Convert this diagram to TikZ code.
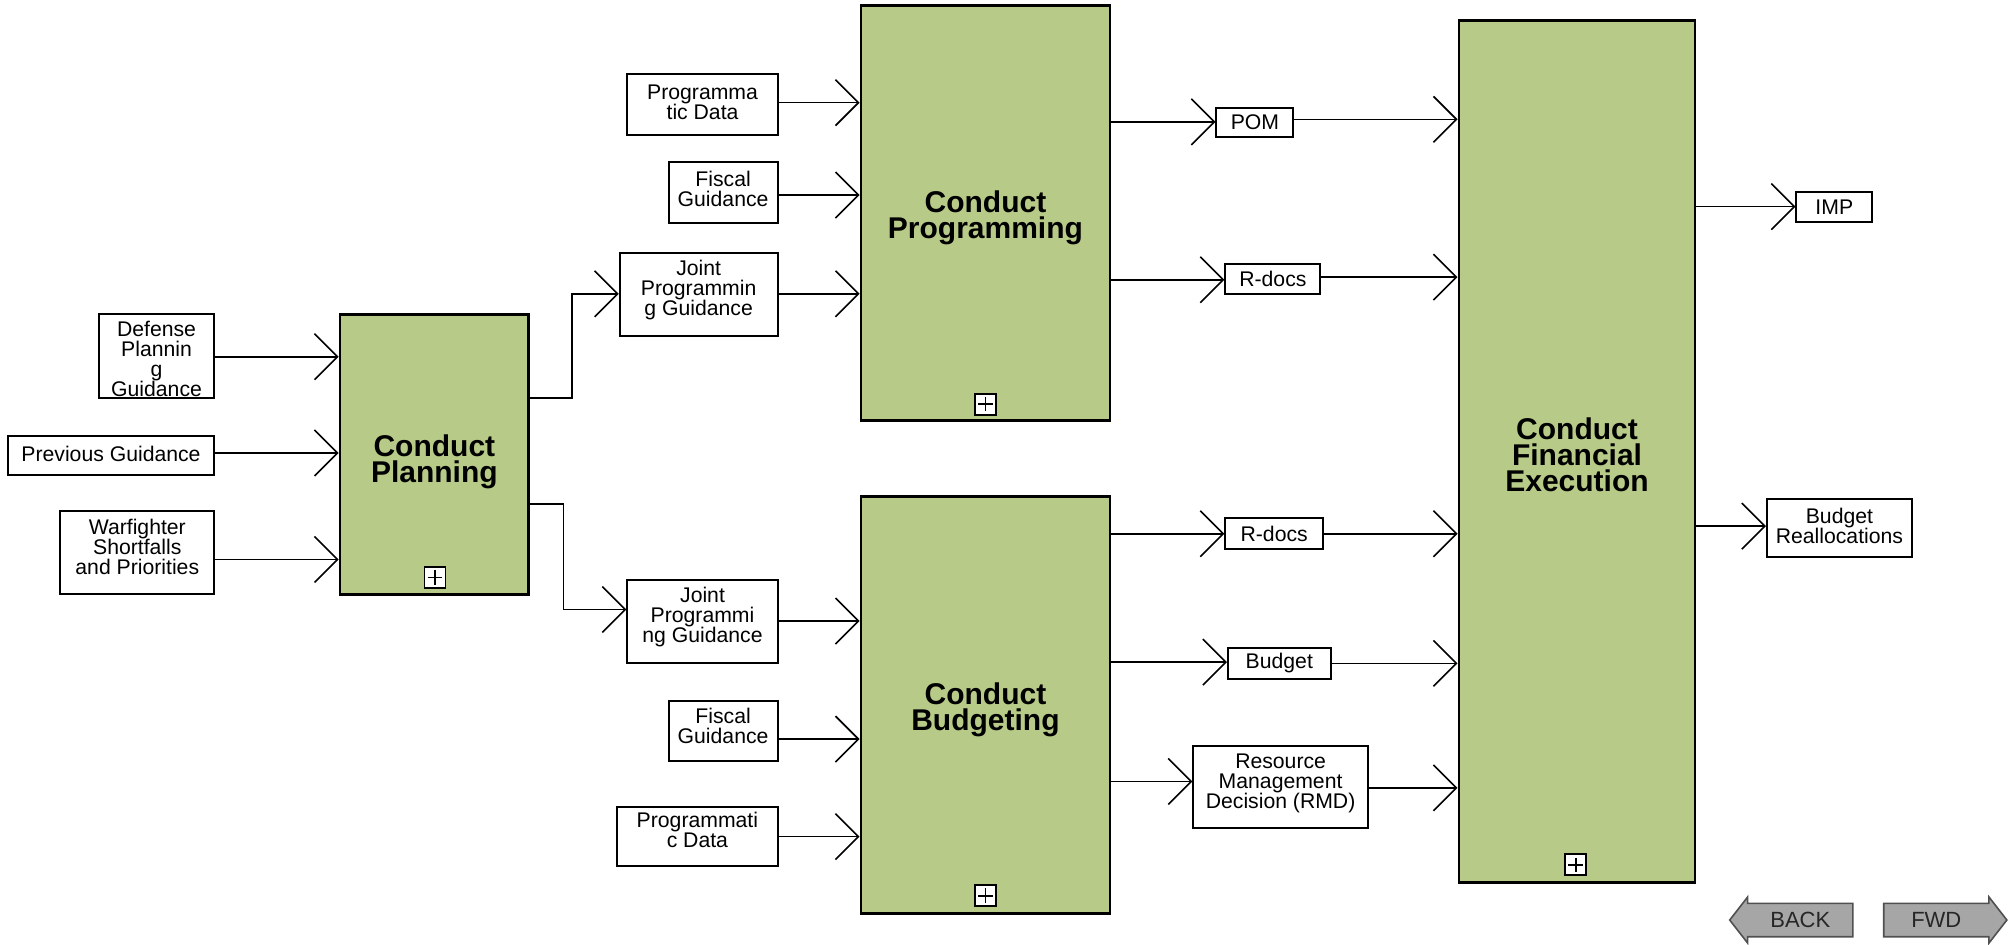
\documentclass[tikz,border=0pt]{standalone}
\usepackage{fontspec}
\setmainfont{Liberation Sans}
\usetikzlibrary{arrows.meta,fit}
\definecolor{procgreen}{RGB}{183,202,135}
\definecolor{btngray}{RGB}{166,166,166}
\definecolor{btnedge}{RGB}{80,80,80}
\begin{document}
\begin{tikzpicture}[x=0.6416pt,y=-0.6416pt,
  proc/.style={draw, line width=1.4pt, fill=procgreen, inner sep=0pt},
  ttl/.style={inner sep=0pt, align=center, font=\fontsize{15}{13}\selectfont\bfseries},
  dbox/.style={draw, line width=1pt, fill=white, inner sep=0pt},
  lbl/.style={inner sep=0pt, align=center, font=\fontsize{10.6}{10}\selectfont},
  conn/.style={line width=0.8pt, -{Straight Barb[length=11.5pt,width=23pt,line width=0.8pt]}},
  plusbox/.style={draw, line width=0.9pt, fill=white, minimum size=10.5pt, inner sep=0pt,
    path picture={\draw[line width=0.9pt] ([xshift=1.6pt]path picture bounding box.west) -- ([xshift=-1.6pt]path picture bounding box.east) ([yshift=-1.6pt]path picture bounding box.north) -- ([yshift=1.6pt]path picture bounding box.south);}},
  btn/.style={draw=btnedge, fill=btngray, line width=0.8pt},
  btntext/.style={font=\fontsize{11}{11}\selectfont, text=black!85, inner sep=0pt}
]
\useasboundingbox (0,0) rectangle (1568,736);

% process boxes
\node (cp)  [proc, fit={(265,245) (412,463)}] {};
\node (cpg) [proc, fit={(671,4) (865,328)}] {};
\node (cb)  [proc, fit={(671,387) (865,712)}] {};
\node (cfe) [proc, fit={(1137,16) (1321,688)}] {};
\node (cpt)  [ttl] at ([yshift=-3.7pt]cp.center)  {Conduct\\Planning};
\node (cpgt) [ttl] at ([yshift=-2.6pt]cpg.center) {Conduct\\Programming};
\node (cbt)  [ttl] at ([yshift=-2.6pt]cb.center)  {Conduct\\Budgeting};
\node (cfet) [ttl] at ([yshift=-1.5pt]cfe.center) {Conduct\\Financial\\Execution};
\node (cpplus)  [plusbox] at (339,450) {};
\node (cpgplus) [plusbox] at (768,315) {};
\node (cbplus)  [plusbox] at (768,698) {};
\node (cfeplus) [plusbox] at (1228,674) {};

% data boxes
\node (dpg) [dbox, fit={(77,245) (167,310)}] {};
\begin{scope}
\clip (dpg.south west) rectangle (dpg.north east);
\node (dpgt) [lbl, anchor=north] at (122,250) {Defense\\Plannin\\g\\Guidance};
\end{scope}
\node (pg)  [dbox, fit={(6,340) (167,370)}] {};
\node (wf)  [dbox, fit={(47,398) (167,463)}] {};
\node (pd1) [dbox, fit={(489,58) (606,105)}] {};
\node (fg1) [dbox, fit={(521,126) (606,174)}] {};
\node (jpg1)[dbox, fit={(483,197) (606,262)}] {};
\node (jpg2)[dbox, fit={(489,452) (606,517)}] {};
\node (fg2) [dbox, fit={(521,546) (606,593)}] {};
\node (pd2) [dbox, fit={(481,629) (606,675)}] {};
\node (pom) [dbox, fit={(948,84) (1008,107)}] {};
\node (rd1) [dbox, fit={(955,206) (1029,229)}] {};
\node (rd2) [dbox, fit={(955,404) (1031,428)}] {};
\node (bud) [dbox, fit={(957,505) (1037,529)}] {};
\node (rmd) [dbox, fit={(930,581) (1066,645)}] {};
\node (imp) [dbox, fit={(1400,150) (1459,173)}] {};
\node (bra) [dbox, fit={(1377,389) (1490,434)}] {};

\node (pgt)   [lbl] at ([yshift=1pt]pg.center)     {Previous Guidance};
\node (wft)   [lbl] at ([yshift=2.5pt]wf.center)   {Warfighter\\Shortfalls\\and Priorities};
\node (pd1t)  [lbl] at ([yshift=1.3pt]pd1.center)  {Programma\\tic Data};
\node (fg1t)  [lbl] at ([yshift=2pt]fg1.center)    {Fiscal\\Guidance};
\node (jpg1t) [lbl] at ([yshift=2.2pt]jpg1.center) {Joint\\Programmin\\g Guidance};
\node (jpg2t) [lbl] at ([yshift=2.5pt]jpg2.center) {Joint\\Programmi\\ng Guidance};
\node (fg2t)  [lbl] at ([yshift=2.5pt]fg2.center)  {Fiscal\\Guidance};
\node (pd2t)  [lbl] at ([yshift=3.5pt]pd2.center)  {Programmati\\c Data};
\node (pomt)  [lbl] at (pom.center)  {POM};
\node (rd1t)  [lbl] at (rd1.center)  {R-docs};
\node (rd2t)  [lbl] at (rd2.center)  {R-docs};
\node (budt)  [lbl] at (bud.center)  {Budget};
\node (rmdt)  [lbl] at ([yshift=1.6pt]rmd.center)  {Resource\\Management\\Decision (RMD)};
\node (impt)  [lbl] at (imp.center)  {IMP};
\node (brat)  [lbl] at ([yshift=1pt]bra.center)  {Budget\\Reallocations};

% connectors into planning
\draw[conn] (dpg.east |- 0,278) -- (cp.west |- 0,278);
\draw[conn] (pg.east |- 0,353) -- (cp.west |- 0,353);
\draw[conn] (wf.east |- 0,436) -- (cp.west |- 0,436);
% planning outputs
\draw[conn] (cp.east |- 0,310) -- (446,310) |- (jpg1.west |- 0,229);
\draw[conn] (cp.east |- 0,393) -- (439,393) |- (jpg2.west |- 0,475);
% into programming
\draw[conn] (pd1.east |- 0,80) -- (cpg.west |- 0,80);
\draw[conn] (fg1.east |- 0,152) -- (cpg.west |- 0,152);
\draw[conn] (jpg1.east |- 0,229) -- (cpg.west |- 0,229);
% into budgeting
\draw[conn] (jpg2.east |- 0,484) -- (cb.west |- 0,484);
\draw[conn] (fg2.east |- 0,576) -- (cb.west |- 0,576);
\draw[conn] (pd2.east |- 0,652) -- (cb.west |- 0,652);
% programming outputs
\draw[conn] (cpg.east |- 0,95) -- (pom.west |- 0,95);
\draw[conn] (pom.east |- 0,93) -- (cfe.west |- 0,93);
\draw[conn] (cpg.east |- 0,218) -- (rd1.west |- 0,218);
\draw[conn] (rd1.east |- 0,216) -- (cfe.west |- 0,216);
% budgeting outputs
\draw[conn] (cb.east |- 0,416) -- (rd2.west |- 0,416);
\draw[conn] (rd2.east |- 0,416) -- (cfe.west |- 0,416);
\draw[conn] (cb.east |- 0,516) -- (bud.west |- 0,516);
\draw[conn] (bud.east |- 0,517) -- (cfe.west |- 0,517);
\draw[conn] (cb.east |- 0,609) -- (rmd.west |- 0,609);
\draw[conn] (rmd.east |- 0,614) -- (cfe.west |- 0,614);
% execution outputs
\draw[conn] (cfe.east |- 0,161) -- (imp.west |- 0,161);
\draw[conn] (cfe.east |- 0,410) -- (bra.west |- 0,410);

% navigation buttons
\draw[btn] (1348,717) -- (1362,699) -- (1362,704) -- (1444,704) -- (1444,730) -- (1362,730) -- (1362,735) -- cycle;
\node (back) [btntext] at (1403,717) {BACK};
\draw[btn] (1468,704) -- (1550,704) -- (1550,699) -- (1564,717) -- (1550,735) -- (1550,730) -- (1468,730) -- cycle;
\node (fwd) [btntext] at (1509,717) {FWD};
\end{tikzpicture}
\end{document}
